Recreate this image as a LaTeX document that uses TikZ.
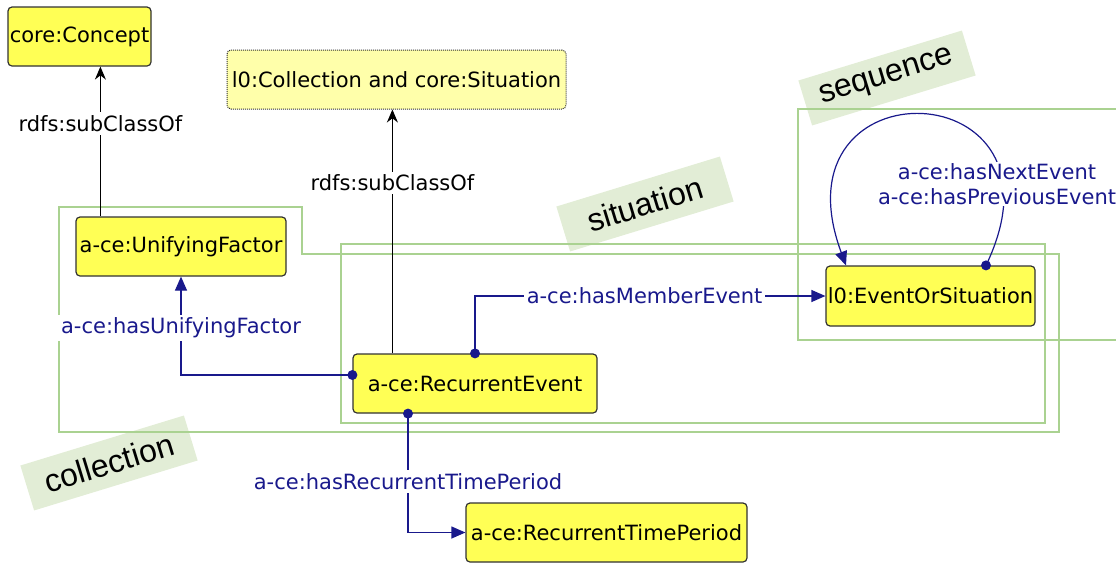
\documentclass[tikz,border=0pt]{standalone}
\usepackage{fontspec}
\setmainfont{DejaVu Sans}
\newfontfamily\grfont{Liberation Sans}
\usetikzlibrary{arrows.meta,calc}
\definecolor{nodeyellow}{RGB}{255,255,85}
\definecolor{paleyellow}{RGB}{255,255,170}
\definecolor{edgeblue}{RGB}{25,25,140}
\definecolor{framegreen}{RGB}{170,210,145}
\definecolor{tagfill}{RGB}{226,237,214}
\definecolor{bordergray}{RGB}{50,50,50}
\begin{document}
\begin{tikzpicture}[x=1pt,y=-1pt,
  cls/.style={draw=bordergray, line width=1.2pt, fill=nodeyellow, rounded corners=4pt,
    font=\fontsize{21}{25}\selectfont, inner sep=0pt, minimum height=59pt},
  anoncls/.style={cls, fill=paleyellow, draw=bordergray, line width=1pt, densely dotted},
  frame/.style={draw=framegreen, line width=1.4pt},
  tag/.style={fill=tagfill, minimum width=171pt, minimum height=47pt, inner sep=0pt,
    font=\grfont\fontsize{32}{38}\selectfont, rotate=17},
  subarrow/.style={draw=black, line width=1.2pt, -{Stealth[length=13pt,width=11pt]}},
  bluearrow/.style={draw=edgeblue, line width=1.2pt, -{Triangle[length=14pt,width=12pt]}},
  blacklbl/.style={fill=white, text=black, inner sep=3pt, font=\fontsize{21}{25}\selectfont},
  bluelbl/.style={fill=white, text=edgeblue, inner sep=3pt, font=\fontsize{21}{25}\selectfont},
  dot/.style={fill=edgeblue}
]
\useasboundingbox (0,0) rectangle (1116,563);

% group tags
\node[tag] (tcol) at (109,463) {collection};
\node[tag] (tsit) at (645,204) {situation};
\node[tag] (tseq) at (887,78) {sequence};

% frames
\draw[frame] (59,207) -- (302,207) -- (302,254) -- (1059,254) -- (1059,432) -- (59,432) -- cycle;
\draw[frame] (341,244) rectangle (1045,423);
\draw[frame] (1125,109) -- (798,109) -- (798,340) -- (1125,340);

% classes
\node[cls, minimum width=143pt] (cc) at (79.5,36.5) {core:Concept};
\node[anoncls, minimum width=339pt] (lc) at (396.5,79.5) {l0:Collection and core:Situation};
\node[cls, minimum width=210pt] (uf) at (181,246.5) {a-ce:UnifyingFactor};
\node[cls, minimum width=244pt] (re) at (475,383.5) {a-ce:RecurrentEvent};
\node[cls, minimum width=209pt, minimum height=60pt] (eos) at (930.5,296) {l0:EventOrSituation};
\node[cls, minimum width=281pt] (rtp) at (606.5,532.5) {a-ce:RecurrentTimePeriod};

% anchor points
\coordinate (ufs) at ($(uf.north west)+(25,0)$);
\coordinate (res) at ($(re.north west)+(40,0)$);
\coordinate (reW) at ($(re.west)+(0,-8.5)$);
\coordinate (reN) at (re.north);
\coordinate (reS) at ($(re.south)+(-67,0)$);
\coordinate (loopS) at ($(eos.north)+(55.5,0)$);
\coordinate (loopE) at ($(eos.north)+(-84.5,0)$);

% subclass edges
\draw[subarrow] (ufs) -- (ufs |- cc.south) node[blacklbl, pos=0.62] {rdfs:subClassOf};
\draw[subarrow] (res) -- (res |- lc.south) node[blacklbl, pos=0.70] {rdfs:subClassOf};

% object properties
\draw[bluearrow] (reW) -| (uf.south) node[bluelbl, pos=0.74] {a-ce:hasUnifyingFactor};
\draw[bluearrow] (reN) |- (eos.west) node[bluelbl, pos=0.742] {a-ce:hasMemberEvent};
\draw[bluearrow] (reS) |- (rtp.west) node[bluelbl, pos=0.285] {a-ce:hasRecurrentTimePeriod};
\draw[bluearrow] (loopS) .. controls (1080,70) and (770,60) .. (loopE);
\node[bluelbl, align=center, inner sep=1pt] (loopl) at (997,184) {a-ce:hasNextEvent\\a-ce:hasPreviousEvent};

% dots
\fill[dot] (reW) circle[radius=5pt];
\fill[dot] (reN) circle[radius=5pt];
\fill[dot] (reS) circle[radius=5pt];
\fill[dot] (loopS) circle[radius=5pt];
\end{tikzpicture}
\end{document}
